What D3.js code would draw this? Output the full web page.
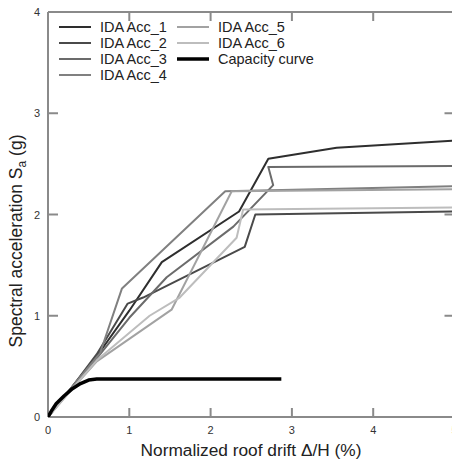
<!DOCTYPE html>
<html lang="en">
<head>
<meta charset="UTF-8">
<title>IDA curves</title>
<script src="https://d3js.org/d3.v7.min.js"></script>
<style>
  body { margin: 0; background: #fff; }
  svg { display: block; font-family: "Liberation Sans", Arial, sans-serif; }
</style>
</head>
<body>
<script>
// drift (%) , Sa (g)
const acc1 = [[0,0],[0.3,0.3],[0.6,0.6],[1.0,1.05],[1.40,1.53],[2.35,2.03],[2.71,2.55],[3.55,2.66],[5,2.73]];
const acc2 = [[0,0],[0.3,0.3],[0.6,0.62],[0.98,1.12],[1.17,1.18],[2.42,1.68],[2.55,2.0],[5,2.03]];
const acc3 = [[0,0],[0.3,0.3],[0.6,0.58],[1.0,0.98],[1.46,1.38],[2.28,1.88],[2.77,2.29],[2.71,2.47],[5,2.48]];
const acc4 = [[0,0],[0.3,0.3],[0.64,0.63],[0.91,1.27],[2.18,2.23],[5,2.28]];
const acc5 = [[0,0],[0.3,0.28],[0.6,0.55],[1.52,1.06],[2.26,2.23],[5,2.25]];
const acc6 = [[0,0],[0.3,0.28],[0.6,0.56],[1.25,1.0],[1.62,1.18],[2.32,1.77],[2.40,2.05],[5,2.07]];
const capacity = [[0,0],[0.05,0.07],[0.1,0.13],[0.2,0.21],[0.3,0.28],[0.4,0.33],[0.5,0.365],[0.6,0.375],[2.87,0.375]];

const seriesNames = ["IDA Acc_1","IDA Acc_2","IDA Acc_3","IDA Acc_4","IDA Acc_5","IDA Acc_6","Capacity curve"];
const seriesData = [acc1, acc2, acc3, acc4, acc5, acc6, capacity];
const seriesColors = ["#2e2e2e","#4a4a4a","#6b6b6b","#808080","#a2a2a2","#bdbdbd","#000"];
const seriesWidths = [2, 2, 2, 2, 2, 2, 3.5];

const xTicks = [0,1,2,3,4,5];
const yTicks = [0,1,2,3,4];

const width = 452, height = 459;
const x = d3.scaleLinear().domain([0,5]).range([48, 454.5]);
const y = d3.scaleLinear().domain([0,4]).range([417, 12]);

const svg = d3.select("body").append("svg")
  .attr("width", width).attr("height", height);

svg.append("defs").append("clipPath").attr("id","clip")
  .append("rect").attr("x", 48).attr("y", 12).attr("width", 410).attr("height", 405);

const axisColor = "#8a8a8a";
const frame = svg.append("g");
// frame lines (left, top, bottom, right)
frame.append("line").attr("x1", x(0)).attr("x2", x(0)).attr("y1", y(0)).attr("y2", y(4));
frame.append("line").attr("x1", x(0)).attr("x2", x(5)).attr("y1", y(4)).attr("y2", y(4));
frame.append("line").attr("x1", x(0)).attr("x2", x(5)).attr("y1", y(0)).attr("y2", y(0));
frame.append("line").attr("x1", x(5)).attr("x2", x(5)).attr("y1", y(0)).attr("y2", y(4));
// inward ticks
xTicks.slice(1, -1).forEach(t => {
  frame.append("line").attr("x1", x(t)).attr("x2", x(t)).attr("y1", y(0)).attr("y2", y(0) - 9);
  frame.append("line").attr("x1", x(t)).attr("x2", x(t)).attr("y1", y(4)).attr("y2", y(4) + 9);
});
yTicks.slice(1, -1).forEach(t => {
  frame.append("line").attr("x1", x(0)).attr("x2", x(0) + 10).attr("y1", y(t)).attr("y2", y(t));
  frame.append("line").attr("x1", x(5)).attr("x2", x(5) - 10).attr("y1", y(t)).attr("y2", y(t));
});
frame.selectAll("line").attr("stroke", axisColor).attr("stroke-width", 2);

// tick labels
svg.append("g").selectAll("text").data(xTicks).join("text")
  .attr("x", d => x(d)).attr("y", y(0) + 17)
  .attr("text-anchor", "middle").attr("font-size", 11).attr("fill", "#333")
  .text(d => d);
svg.append("g").selectAll("text").data(yTicks).join("text")
  .attr("x", x(0) - 8).attr("y", d => y(d) + 4)
  .attr("text-anchor", "end").attr("font-size", 11).attr("fill", "#333")
  .text(d => d);

// axis titles
svg.append("text")
  .attr("x", 251).attr("y", 456)
  .attr("text-anchor", "middle").attr("font-size", 17.3).attr("fill", "#222")
  .text("Normalized roof drift \u0394/H (%)");
const yl = svg.append("text")
  .attr("transform", "translate(22,241) rotate(-90)")
  .attr("text-anchor", "middle").attr("font-size", 17.5).attr("fill", "#222");
yl.append("tspan").text("Spectral acceleration S");
yl.append("tspan").attr("font-size", 12).attr("dy", 4).text("a");
yl.append("tspan").attr("dy", -4).text(" (g)");

// curves
const line = d3.line().x(d => x(d[0])).y(d => y(d[1]));
const plot = svg.append("g").attr("clip-path", "url(#clip)");
seriesData.forEach((s, i) => {
  plot.append("path").datum(s)
    .attr("d", line)
    .attr("fill", "none")
    .attr("stroke", seriesColors[i])
    .attr("stroke-width", seriesWidths[i])
    .attr("stroke-linejoin", "round");
});

// legend
const legendPos = [[0,0],[0,1],[0,2],[0,3],[1,0],[1,1],[1,2]];
const legend = svg.append("g");
seriesNames.forEach((name, i) => {
  const [c, r] = legendPos[i];
  const lx = 59 + c * 118, ly = 27 + r * 16;
  legend.append("line")
    .attr("x1", lx).attr("x2", lx + 32).attr("y1", ly).attr("y2", ly)
    .attr("stroke", seriesColors[i]).attr("stroke-width", seriesWidths[i]);
  legend.append("text")
    .attr("x", lx + 41).attr("y", ly + 5)
    .attr("font-size", 14.5).attr("fill", "#222")
    .text(name);
});
</script>
</body>
</html>
